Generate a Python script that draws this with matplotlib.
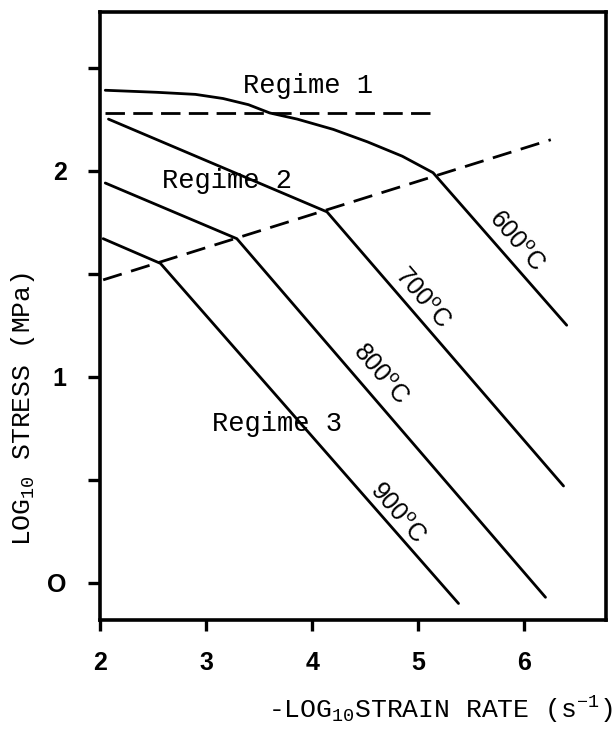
import matplotlib.pyplot as plt

# data
strain_600 = [2.05, 2.54, 2.90, 3.16, 3.40, 3.60, 3.86, 4.20, 4.52, 4.85, 5.14, 6.40]
stress_600 = [2.39, 2.38, 2.37, 2.35, 2.32, 2.28, 2.25, 2.20, 2.14, 2.07, 1.99, 1.25]
strain_700 = [2.08, 4.14, 6.37]
stress_700 = [2.25, 1.80, 0.47]
strain_800 = [2.05, 3.29, 6.20]
stress_800 = [1.94, 1.67, -0.07]
strain_900 = [2.03, 2.57, 5.38]
stress_900 = [1.67, 1.55, -0.10]

regime1_x = [2.05, 5.19]
regime1_y = [2.28, 2.28]
regime23_x = [2.03, 6.25]
regime23_y = [1.47, 2.15]

temp_labels = ['600', '700', '800', '900']
temp_label_x = [5.92, 5.04, 4.64, 4.80]
temp_label_y = [1.66, 1.38, 1.01, 0.34]

regime_names = ['Regime 1', 'Regime 2', 'Regime 3']
regime_x = [3.96, 3.20, 3.67]
regime_y = [2.41, 1.95, 0.77]

xticks = [2, 3, 4, 5, 6]
yticks = [0, 1, 2]
yticks_minor = [0.5, 1.5, 2.5]

mono = 'Liberation Mono'
sans = 'Liberation Sans'

fig = plt.figure(figsize=(6.16, 7.37), dpi=100)
ax = fig.add_axes([0.1623, 0.1588, 0.8214, 0.825])

lw = 2.0
for xs, ys in [(strain_600, stress_600), (strain_700, stress_700),
               (strain_800, stress_800), (strain_900, stress_900)]:
    ax.plot(xs, ys, color='black', linewidth=lw, solid_capstyle='round',
            solid_joinstyle='round')

ax.plot(regime1_x, regime1_y, color='black', linewidth=lw, dashes=(7, 3))
ax.plot(regime23_x, regime23_y, color='black', linewidth=lw, dashes=(7, 3.5))

# temperature labels along the lines
for t, tx, ty in zip(temp_labels, temp_label_x, temp_label_y):
    ax.text(tx, ty, t + r'$^{\mathregular{o}}$C', rotation=-49.3,
            rotation_mode='anchor', ha='center', va='center',
            fontsize=18, family=sans)

for name, rx, ry in zip(regime_names, regime_x, regime_y):
    ax.text(rx, ry, name, ha='center', va='center', fontsize=19.5,
            family=mono)

ax.set_xlim(2, 6.77)
ax.set_ylim(-0.18, 2.77)

ax.set_xticks(xticks)
ax.set_xticklabels([str(v) for v in xticks], family=sans, fontsize=18,
                   fontweight='bold')
ax.set_yticks(yticks)
ax.set_yticklabels(['O', '1', '2'], family=sans, fontsize=18,
                   fontweight='bold')
ax.set_yticks(yticks_minor, minor=True)

ax.tick_params(axis='x', which='major', direction='out', length=8,
               width=2.4, pad=14)
ax.tick_params(axis='y', which='both', direction='out', length=9,
               width=2.4, pad=15)

for sp in ax.spines.values():
    sp.set_linewidth(2.6)

fig.text(23 / 616, 1 - 409 / 737, r'LOG$\mathregular{_{10}}$ STRESS (MPa)',
         rotation=90, ha='center', va='center', fontsize=19, family=mono)
fig.text(613 / 616, 1 - 718 / 737,
         r'-LOG$\mathregular{_{10}}$STRAIN RATE (s$\mathregular{^{-1}}$)',
         ha='right', va='baseline', fontsize=19, family=mono)

fig.savefig('out.png', dpi=100)
